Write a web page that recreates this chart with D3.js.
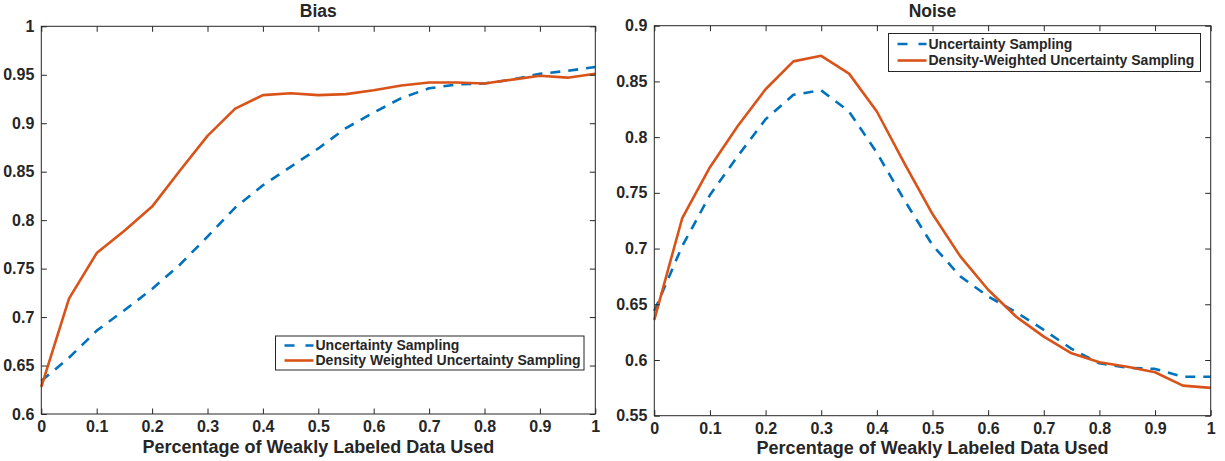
<!DOCTYPE html>
<html>
<head>
<meta charset="utf-8">
<script src="https://cdn.jsdelivr.net/npm/d3@7"></script>
<style>
  html, body { margin: 0; padding: 0; background: #fff; }
  svg { display: block; }
  text { font-family: "Liberation Sans", Arial, Helvetica, sans-serif; font-weight: bold; fill: #262626; }
</style>
</head>
<body>
<svg id="chart" width="1225" height="461"></svg>
<script>
// Fraction of weakly labeled data used (shared x values)
const fractions = [0, 0.05, 0.1, 0.15, 0.2, 0.25, 0.3, 0.35, 0.4, 0.45, 0.5,
                   0.55, 0.6, 0.65, 0.7, 0.75, 0.8, 0.85, 0.9, 0.95, 1];

// Bias panel
const biasUncertainty = [0.634, 0.658, 0.686, 0.707, 0.729, 0.754, 0.783, 0.813, 0.836, 0.855, 0.874,
                         0.895, 0.911, 0.926, 0.936, 0.940, 0.941, 0.945, 0.951, 0.954, 0.958];
const biasDensity     = [0.628, 0.719, 0.766, 0.789, 0.814, 0.851, 0.887, 0.915, 0.929, 0.931, 0.929,
                         0.930, 0.934, 0.939, 0.942, 0.942, 0.941, 0.945, 0.949, 0.947, 0.951];

// Noise panel
const noiseUncertainty = [0.644, 0.702, 0.748, 0.783, 0.816, 0.838, 0.842, 0.823, 0.786, 0.743, 0.703,
                          0.675, 0.657, 0.643, 0.627, 0.610, 0.597, 0.593, 0.592, 0.585, 0.585];
const noiseDensity     = [0.636, 0.727, 0.773, 0.810, 0.843, 0.868, 0.873, 0.857, 0.823, 0.776, 0.731,
                          0.693, 0.663, 0.639, 0.621, 0.606, 0.598, 0.594, 0.589, 0.577, 0.575];

// Tick values
const xTicks = [0, 0.1, 0.2, 0.3, 0.4, 0.5, 0.6, 0.7, 0.8, 0.9, 1];
const biasYTicks = [0.6, 0.65, 0.7, 0.75, 0.8, 0.85, 0.9, 0.95, 1];
const noiseYTicks = [0.55, 0.6, 0.65, 0.7, 0.75, 0.8, 0.85, 0.9];

const xLabel = "Percentage of Weakly Labeled Data Used";
const BLUE = "#0072BD", ORANGE = "#D95319", AXIS = "#262626";

const svg = d3.select("#chart");
svg.append("rect").attr("width", 1225).attr("height", 461).attr("fill", "#fff");

function panel(cfg) {
  const x = d3.scaleLinear().domain([0, 1]).range([cfg.left, cfg.right]);
  const y = d3.scaleLinear().domain(cfg.yDomain).range([cfg.bottom, cfg.top]);
  const g = svg.append("g");
  const tickLen = 5.5;

  // Lines
  const line = (vals) => d3.line().x((d, i) => x(fractions[i])).y(d => y(d))(vals);
  g.append("path").attr("d", line(cfg.blue))
    .attr("fill", "none").attr("stroke", BLUE).attr("stroke-width", 2.6)
    .attr("stroke-dasharray", "10,8").attr("stroke-linejoin", "round");
  g.append("path").attr("d", line(cfg.orange))
    .attr("fill", "none").attr("stroke", ORANGE).attr("stroke-width", 2.6)
    .attr("stroke-linejoin", "round");

  // Axes with inward ticks on all four sides
  const bottom = d3.axisBottom(x).tickValues(xTicks).tickSizeInner(-tickLen).tickSizeOuter(0)
    .tickPadding(7).tickFormat(d3.format("~g"));
  const top = d3.axisTop(x).tickValues(xTicks).tickSizeInner(-tickLen).tickSizeOuter(0).tickFormat("");
  const leftAx = d3.axisLeft(y).tickValues(cfg.yTicks).tickSizeInner(-tickLen).tickSizeOuter(0)
    .tickPadding(7).tickFormat(d3.format("~g"));
  const rightAx = d3.axisRight(y).tickValues(cfg.yTicks).tickSizeInner(-tickLen).tickSizeOuter(0).tickFormat("");

  const gb = g.append("g").attr("transform", `translate(0,${cfg.bottom})`).call(bottom);
  const gt = g.append("g").attr("transform", `translate(0,${cfg.top})`).call(top);
  const gl = g.append("g").attr("transform", `translate(${cfg.left},0)`).call(leftAx);
  const gr = g.append("g").attr("transform", `translate(${cfg.right},0)`).call(rightAx);
  [gb, gt, gl, gr].forEach(a => {
    a.selectAll("path.domain").remove();
    a.selectAll(".tick line").attr("stroke", AXIS).attr("stroke-width", 1);
    a.selectAll(".tick text").attr("font-size", 16).attr("fill", AXIS)
      .attr("font-family", '"Liberation Sans", Arial, sans-serif').attr("font-weight", "bold");
  });
  gb.selectAll(".tick text").attr("dy", "0.71em");

  // Box
  g.append("rect").attr("x", cfg.left).attr("y", cfg.top)
    .attr("width", cfg.right - cfg.left).attr("height", cfg.bottom - cfg.top)
    .attr("fill", "none").attr("stroke", AXIS).attr("stroke-width", 1);

  // Title and x label
  g.append("text").attr("x", (cfg.left + cfg.right) / 2).attr("y", cfg.top - 9)
    .attr("text-anchor", "middle").attr("font-size", 17.5).text(cfg.title);
  g.append("text").attr("x", (cfg.left + cfg.right) / 2).attr("y", cfg.bottom + 38.5)
    .attr("text-anchor", "middle").attr("font-size", 18).text(xLabel);

  // Legend
  const L = cfg.legend;
  const lg = g.append("g").attr("transform", `translate(${L.x},${L.y})`);
  lg.append("rect").attr("width", L.w).attr("height", L.h)
    .attr("fill", "#fff").attr("stroke", AXIS).attr("stroke-width", 1);
  const entries = [
    { label: cfg.names[0], color: BLUE, dash: "10,11" },
    { label: cfg.names[1], color: ORANGE, dash: null }
  ];
  entries.forEach((e, i) => {
    const cy = L.row0 + i * L.rowStep;
    lg.append("line").attr("x1", 9).attr("x2", 38).attr("y1", cy).attr("y2", cy)
      .attr("stroke", e.color).attr("stroke-width", 2.6)
      .attr("stroke-dasharray", e.dash);
    lg.append("text").attr("x", 40).attr("y", cy).attr("dy", "0.35em")
      .attr("font-size", 14).text(e.label);
  });
}

panel({
  left: 41.3, right: 595.3, top: 26.3, bottom: 414,
  yDomain: [0.6, 1], yTicks: biasYTicks, title: "Bias",
  blue: biasUncertainty, orange: biasDensity,
  names: ["Uncertainty Sampling", "Density Weighted Uncertainty Sampling"],
  legend: { x: 275.5, y: 336, w: 308.5, h: 34, row0: 9.5, rowStep: 15 }
});

panel({
  left: 654.3, right: 1210.7, top: 25.7, bottom: 415.7,
  yDomain: [0.55, 0.9], yTicks: noiseYTicks, title: "Noise",
  blue: noiseUncertainty, orange: noiseDensity,
  names: ["Uncertainty Sampling", "Density-Weighted Uncertainty Sampling"],
  legend: { x: 888.5, y: 33.5, w: 312, h: 38, row0: 10.5, rowStep: 16.5 }
});
</script>
</body>
</html>
